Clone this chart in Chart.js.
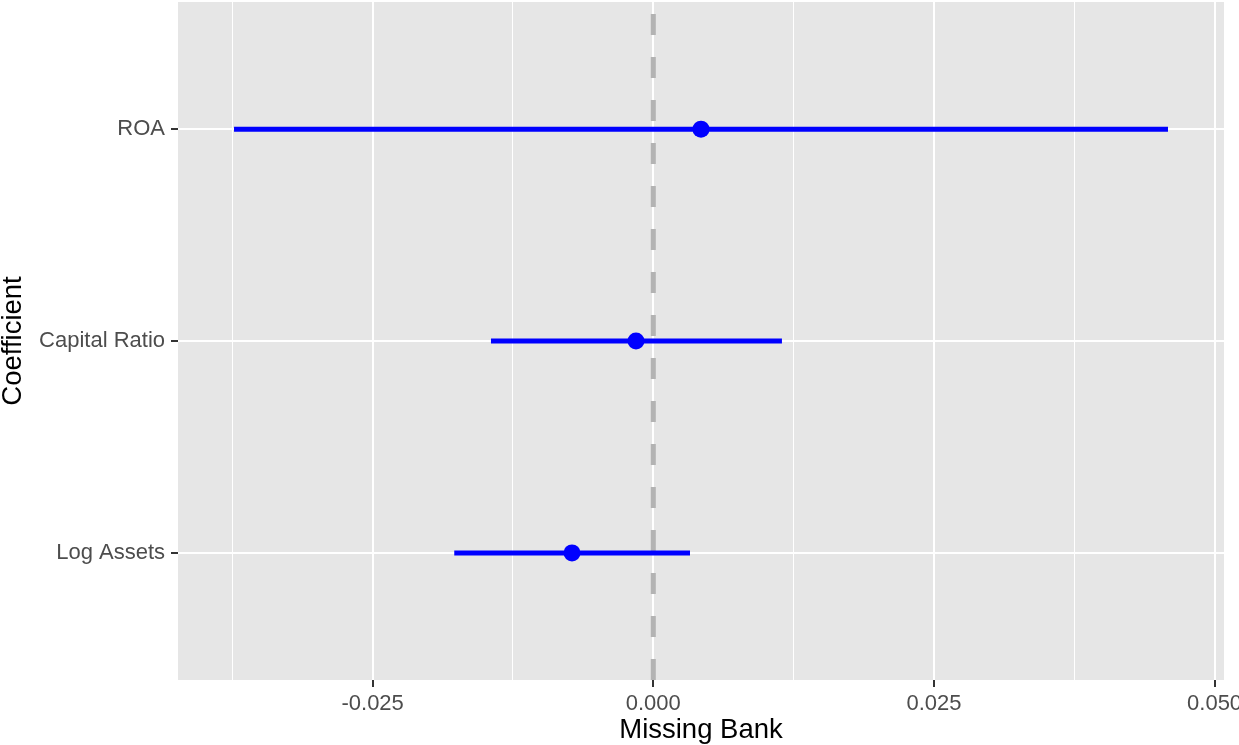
<!DOCTYPE html>
<html>
<head>
<meta charset="utf-8">
<script src="https://cdn.jsdelivr.net/npm/chart.js@4"></script>
<style>
  html, body { margin: 0; padding: 0; background: #ffffff; }
  #wrap { width: 1239px; height: 745px; position: relative; }
</style>
</head>
<body>
<div id="wrap"><canvas id="myChart"></canvas></div>
<script>
// coefficient plot data
const coefficients = ['Log Assets', 'Capital Ratio', 'ROA'];
const estimates = [-0.00724, -0.00154, 0.00425];
const lower = [-0.01773, -0.01446, -0.03735];
const upper = [0.00327, 0.01146, 0.04585];
const xMajorTicks = [-0.025, 0, 0.025, 0.05];
const xMinorTicks = [-0.0375, -0.0125, 0.0125, 0.0375];

const fontFamily = '"Liberation Sans", Arial, Helvetica, sans-serif';

const panelBg = {
    id: 'panelBg',
    beforeDraw(chart) {
        const { ctx, chartArea: a } = chart;
        ctx.save();
        ctx.fillStyle = '#e6e6e6';
        ctx.fillRect(a.left, a.top, a.right - a.left, a.bottom - a.top);
        ctx.restore();
    }
};

const isMajor = v => xMajorTicks.some(t => Math.abs(t - v) < 1e-9);

// labels may overflow the canvas like in the original, so drop the extra padding
function noPad(scale) {
    scale.paddingLeft = 0;
    scale.paddingRight = 0;
    scale.paddingTop = 0;
    scale.paddingBottom = 0;
}

const barSets = coefficients.map((c, i) => ({
    type: 'line',
    label: c,
    data: [{ x: lower[i], y: i + 1 }, { x: upper[i], y: i + 1 }],
    borderColor: '#0000ff',
    borderWidth: 5,
    borderCapStyle: 'butt',
    pointRadius: 0,
    order: 2
}));

const config = {
    type: 'scatter',
    data: {
        datasets: [
            {
                type: 'line',
                label: 'zero',
                data: [{ x: 0, y: 0.4 }, { x: 0, y: 3.6 }],
                borderColor: '#b3b3b3',
                borderWidth: 5,
                borderDash: [21, 22],
                borderCapStyle: 'butt',
                pointRadius: 0,
                order: 3
            },
            ...barSets,
            {
                label: 'estimate',
                data: estimates.map((v, i) => ({ x: v, y: i + 1 })),
                backgroundColor: '#0000ff',
                borderWidth: 0,
                pointRadius: 8.5,
                order: 1
            }
        ]
    },
    options: {
        responsive: true,
        maintainAspectRatio: false,
        animation: false,
        layout: { autoPadding: false, padding: { top: 2, right: 15, left: 0, bottom: 0 } },
        plugins: { legend: { display: false }, tooltip: { enabled: false } },
        scales: {
            x: {
                type: 'linear',
                min: -0.04234,
                max: 0.05084,
                afterBuildTicks(scale) {
                    scale.ticks = [...xMajorTicks, ...xMinorTicks].sort((a, b) => a - b).map(v => ({ value: v }));
                },
                afterFit(scale) { scale.height = 65; noPad(scale); },
                border: { display: false },
                grid: {
                    color: '#ffffff',
                    lineWidth: ctx => isMajor(ctx.tick.value) ? 2 : 1,
                    tickColor: ctx => isMajor(ctx.tick.value) ? '#333333' : 'rgba(0,0,0,0)',
                    tickWidth: 2,
                    tickLength: 7
                },
                ticks: {
                    autoSkip: false,
                    maxRotation: 0,
                    padding: 4,
                    color: '#4d4d4d',
                    font: { family: fontFamily, size: 22 },
                    callback: v => isMajor(v) ? v.toFixed(3) : ''
                },
                title: {
                    display: true,
                    text: 'Missing Bank',
                    color: '#000000',
                    font: { family: fontFamily, size: 27.5, lineHeight: 1 },
                    padding: { top: 0, bottom: 1 }
                }
            },
            y: {
                type: 'linear',
                min: 0.4,
                max: 3.6,
                afterBuildTicks(scale) {
                    scale.ticks = coefficients.map((c, i) => ({ value: i + 1 }));
                },
                afterFit(scale) { scale.width = 178; noPad(scale); },
                border: { display: false },
                grid: {
                    color: '#ffffff',
                    lineWidth: 2,
                    tickColor: '#333333',
                    tickWidth: 2,
                    tickLength: 7
                },
                ticks: {
                    autoSkip: false,
                    padding: 6,
                    color: '#4d4d4d',
                    font: { family: fontFamily, size: 22 },
                    callback: v => coefficients[v - 1]
                },
                title: {
                    display: true,
                    text: 'Coefficient',
                    color: '#000000',
                    font: { family: fontFamily, size: 27.5, lineHeight: 1 },
                    padding: { top: 0, bottom: 0 }
                }
            }
        }
    },
    plugins: [panelBg]
};

const myChart = new Chart(document.getElementById('myChart'), config);
</script>
</body>
</html>
